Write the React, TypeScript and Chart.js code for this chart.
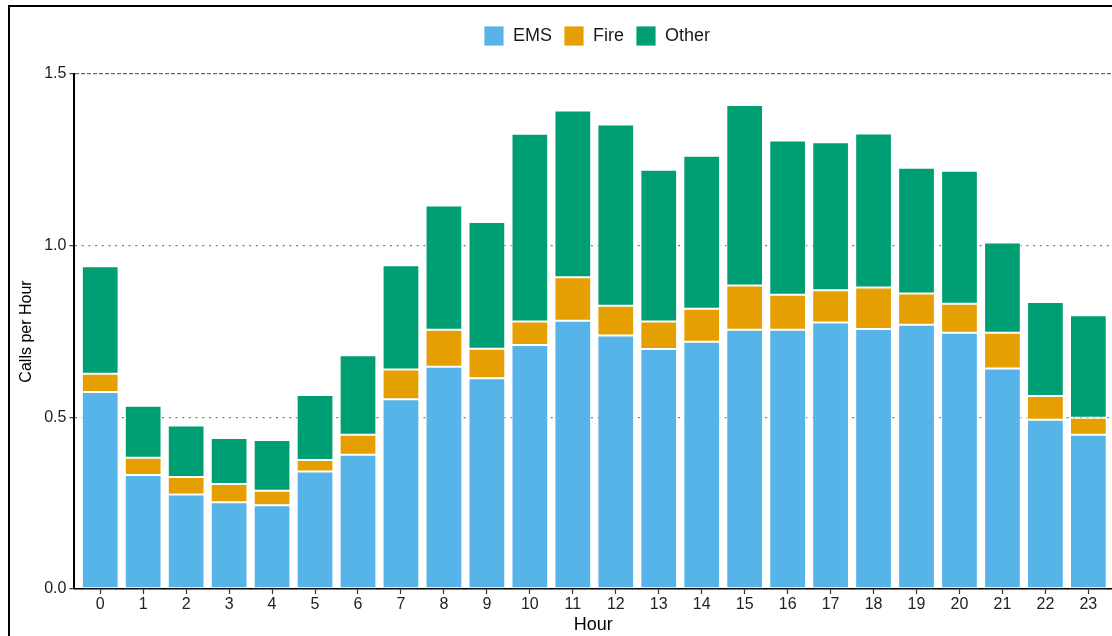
import React, { useEffect, useRef } from 'react';
import { Chart, registerables } from 'chart.js';

Chart.register(...registerables);

const HOURS = [0, 1, 2, 3, 4, 5, 6, 7, 8, 9, 10, 11, 12, 13, 14, 15, 16, 17, 18, 19, 20, 21, 22, 23];
const EMS = [0.574, 0.332, 0.275, 0.253, 0.244, 0.342, 0.391, 0.553, 0.647, 0.614, 0.711, 0.781, 0.738, 0.699, 0.720, 0.755, 0.755, 0.776, 0.757, 0.770, 0.746, 0.642, 0.493, 0.449];
const FIRE = [0.053, 0.050, 0.051, 0.053, 0.042, 0.034, 0.058, 0.086, 0.108, 0.086, 0.068, 0.127, 0.087, 0.080, 0.096, 0.129, 0.102, 0.094, 0.121, 0.091, 0.085, 0.104, 0.069, 0.050];
const OTHER = [0.313, 0.152, 0.150, 0.134, 0.148, 0.189, 0.232, 0.304, 0.362, 0.369, 0.547, 0.486, 0.528, 0.442, 0.446, 0.526, 0.449, 0.431, 0.449, 0.366, 0.387, 0.263, 0.274, 0.298];
const SERIES_NAMES = ['EMS', 'Fire', 'Other'];
const SERIES_COLORS = ['#56B4E9', '#E69F00', '#009E73'];
const Y_TICKS = [0, 0.5, 1.0, 1.5];
const X_TITLE = 'Hour';
const Y_TITLE = 'Calls per Hour';

const FONT = "'Liberation Sans', Arial, Helvetica, sans-serif";

const LEGEND_CENTER_X = 597;
const LEGEND_DY = -18;

const legendShift = {
  id: 'legendShift',
  afterLayout(chart: any) {
    const l = chart.legend;
    if (!l) return;
    const dx = LEGEND_CENTER_X - (l.left + l.right) / 2;
    l.left += dx;
    l.right += dx;
    l.top += LEGEND_DY;
    l.bottom += LEGEND_DY;
  },
};

export default function App() {
  const ref = useRef<HTMLCanvasElement | null>(null);

  useEffect(() => {
    document.body.style.margin = '0';
    document.body.style.overflow = 'hidden';
    const canvas = ref.current;
    if (!canvas) return;
    Chart.defaults.font.family = FONT;

    const series = [EMS, FIRE, OTHER];
    const chart = new Chart(canvas, {
      type: 'bar',
      data: {
        labels: HOURS,
        datasets: series.map((d, i) => ({
          label: SERIES_NAMES[i],
          data: d,
          backgroundColor: SERIES_COLORS[i],
          borderColor: 'rgba(255,255,255,0.85)',
          borderWidth: 1,
          borderSkipped: false,
          barPercentage: 0.9,
          categoryPercentage: 0.95,
        })),
      },
      options: {
        animation: false,
        responsive: false,
        maintainAspectRatio: false,
        layout: { padding: { left: 8, top: 32, right: 0, bottom: 2 } },
        plugins: {
          tooltip: { enabled: false },
          legend: {
            display: true,
            position: 'top',
            labels: {
              boxWidth: 20,
              boxHeight: 20,
              padding: 12,
              color: '#1a1a1a',
              font: { size: 18, family: FONT },
            },
          },
        },
        scales: {
          x: {
            type: 'linear',
            min: -0.6,
            max: 23.55,
            stacked: true,
            offset: false,
            z: 1,
            afterBuildTicks: (s: any) => {
              s.ticks = HOURS.map((h) => ({ value: h }));
            },
            grid: {
              display: true,
              offset: false,
              drawOnChartArea: false,
              drawTicks: true,
              tickLength: 5,
              tickColor: '#333',
              tickWidth: 1.2,
            },
            border: { display: true, color: '#000', width: 1.5 },
            ticks: {
              autoSkip: false,
              maxRotation: 0,
              padding: 3,
              color: '#222',
              font: { size: 16, family: FONT, lineHeight: 1 },
              callback: (v: any) => String(v),
            },
            title: {
              display: true,
              text: X_TITLE,
              color: '#000',
              font: { size: 18, family: FONT, lineHeight: 1 },
              padding: { top: 0, bottom: 0 },
            },
          },
          y: {
            type: 'linear',
            min: 0,
            max: 1.5,
            stacked: true,
            afterBuildTicks: (s: any) => {
              s.ticks = Y_TICKS.map((v) => ({ value: v }));
            },
            grid: {
              display: true,
              drawOnChartArea: true,
              drawTicks: true,
              tickLength: 5,
              tickColor: '#333',
              tickWidth: 1.2,
              tickBorderDash: [],
              color: (ctx: any) => (ctx.tick && ctx.tick.value === 1.5 ? '#6a6a6a' : '#7a7a7a'),
              lineWidth: 1.3,
            },
            border: {
              display: true,
              color: '#000',
              width: 2,
              dash: (ctx: any) =>
                ctx.tick ? (ctx.tick.value === 1.5 ? [4, 2] : [2, 4.7]) : [],
            },
            ticks: {
              padding: 3,
              color: '#222',
              font: { size: 16, family: FONT },
              callback: (v: any) => Number(v).toFixed(1),
            },
            title: {
              display: true,
              text: Y_TITLE,
              color: '#000',
              font: { size: 16, family: FONT },
              padding: { top: 8.5, bottom: 5.5 },
            },
          },
        },
      },
      plugins: [legendShift],
    } as any);

    return () => {
      chart.destroy();
    };
  }, []);

  return (
    <div style={{ position: 'absolute', left: 0, top: 0, width: 1112, height: 636, background: '#fff', overflow: 'hidden' }}>
      <canvas ref={ref} width={1112} height={636} style={{ display: 'block', width: 1112, height: 636 }} />
      <div
        style={{
          position: 'absolute',
          left: 8,
          top: 5,
          width: 1110,
          height: 640,
          borderTop: '2px solid #000',
          borderLeft: '2px solid #000',
          pointerEvents: 'none',
        }}
      />
    </div>
  );
}
